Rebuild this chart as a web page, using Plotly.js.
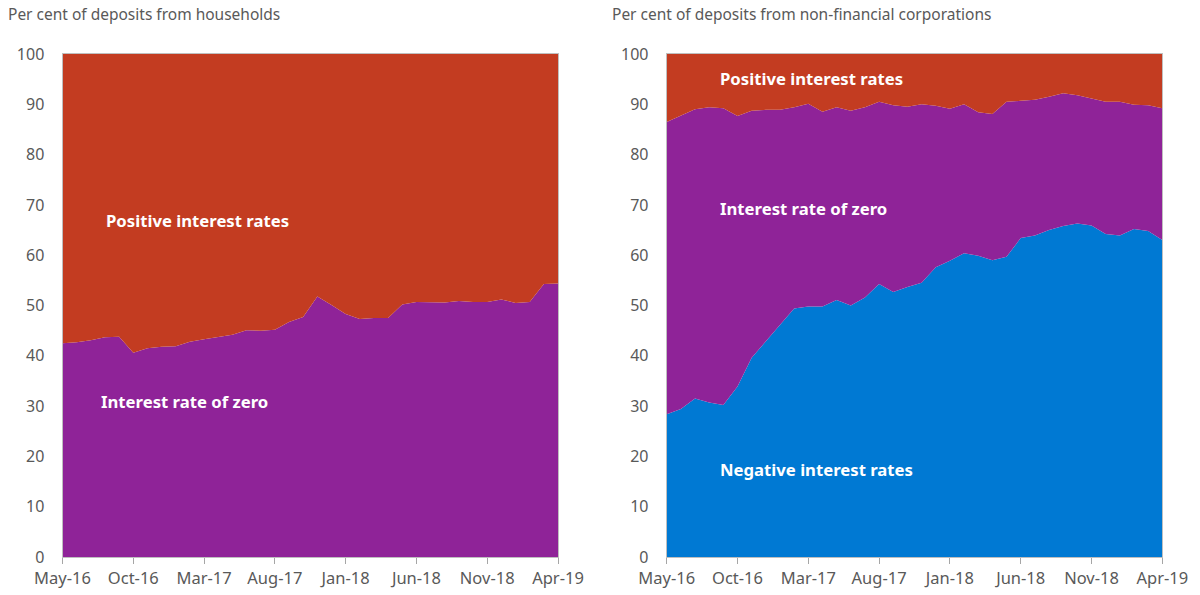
<!DOCTYPE html>
<html>
<head>
<meta charset="utf-8">
<script src="https://cdn.plot.ly/plotly-3.0.1.min.js"></script>
<style>html,body{margin:0;padding:0;background:#fff;}#chart{width:1200px;height:595px;}</style>
</head>
<body>
<div id="chart"></div>
<script>
const months = ["May-16","Jun-16","Jul-16","Aug-16","Sep-16","Oct-16","Nov-16","Dec-16","Jan-17","Feb-17","Mar-17","Apr-17",
"May-17","Jun-17","Jul-17","Aug-17","Sep-17","Oct-17","Nov-17","Dec-17","Jan-18","Feb-18","Mar-18","Apr-18",
"May-18","Jun-18","Jul-18","Aug-18","Sep-18","Oct-18","Nov-18","Dec-18","Jan-19","Feb-19","Mar-19","Apr-19"];
const tickLabels = ["May-16","Oct-16","Mar-17","Aug-17","Jan-18","Jun-18","Nov-18","Apr-19"];
const yTicks = [0,10,20,30,40,50,60,70,80,90,100];

// Households
const hhZero = [42.5,42.7,43.1,43.7,43.8,40.6,41.5,41.8,41.9,42.8,43.3,43.7,
44.2,45.1,45.0,45.2,46.7,47.7,51.8,50.1,48.3,47.3,47.5,47.5,
50.2,50.7,50.6,50.6,50.9,50.7,50.7,51.2,50.5,50.7,54.3,54.4];
const hhPositive = [57.5,57.3,56.9,56.3,56.2,59.4,58.5,58.2,58.1,57.2,56.7,56.3,
55.8,54.9,55.0,54.8,53.3,52.3,48.2,49.9,51.7,52.7,52.5,52.5,
49.8,49.3,49.4,49.4,49.1,49.3,49.3,48.8,49.5,49.3,45.7,45.6];

// Non-financial corporations
const nfcNegative = [28.4,29.4,31.5,30.7,30.2,33.9,39.6,42.8,46.0,49.4,49.8,49.8,
51.1,50.0,51.6,54.3,52.7,53.7,54.5,57.6,58.9,60.4,59.9,59.0,
59.7,63.4,63.9,65.0,65.8,66.3,65.9,64.2,63.9,65.2,64.8,63.0];
const nfcZero = [58.1,58.3,57.5,58.7,59.0,53.8,49.1,46.1,42.9,40.0,40.3,38.7,
38.3,38.7,37.8,36.2,37.1,35.8,35.5,32.1,30.2,29.6,28.5,29.1,
30.8,27.3,27.0,26.5,26.4,25.5,25.3,26.3,26.6,24.7,25.0,26.2];
const nfcPositive = [13.5,12.3,11.0,10.6,10.8,12.3,11.3,11.1,11.1,10.6,9.9,11.5,
10.6,11.3,10.6,9.5,10.2,10.5,10.0,10.3,10.9,10.0,11.6,11.9,
9.5,9.3,9.1,8.5,7.8,8.2,8.8,9.5,9.5,10.1,10.2,10.8];

const RED = '#C33C21', PURPLE = '#8F2398', BLUE = '#0079D3';
const FONT = '"Noto Sans", "Open Sans", sans-serif';

function area(y, color, xa, ya, grp) {
  return {x: months, y: y, type: 'scatter', mode: 'lines', stackgroup: grp,
    line: {width: 0, color: color}, fillcolor: color, xaxis: xa, yaxis: ya, hoverinfo: 'skip'};
}

const data = [
  area(hhZero, PURPLE, 'x', 'y', 'a'),
  area(hhPositive, RED, 'x', 'y', 'a'),
  area(nfcNegative, BLUE, 'x2', 'y2', 'b'),
  area(nfcZero, PURPLE, 'x2', 'y2', 'b'),
  area(nfcPositive, RED, 'x2', 'y2', 'b')
];

function xaxis(dom, anchor) {
  return {domain: dom, anchor: anchor, type: 'category', categoryorder: 'array', categoryarray: months,
    range: [0, 35], tickmode: 'array', tickvals: tickLabels, ticktext: tickLabels,
    ticks: 'outside', ticklen: 6, tickcolor: '#A6A6A6', showline: true, linecolor: '#BFBFBF', mirror: true,
    showgrid: false, zeroline: false, tickfont: {family: FONT, size: 16.5, color: '#595959'}, fixedrange: true};
}
function yaxis(anchor) {
  return {domain: [0.0639, 0.9092], anchor: anchor, range: [0, 100], tickvals: yTicks,
    ticks: 'outside', ticklen: 0, ticklabelstandoff: 14, showline: true, linecolor: '#BFBFBF', mirror: true,
    showgrid: false, zeroline: false, tickfont: {family: FONT, size: 16, color: '#595959'}, fixedrange: true};
}

function lbl(text, x, y) {
  return {text: '<b>' + text + '</b>', xref: 'paper', yref: 'paper', x: x, y: y, xanchor: 'left', yanchor: 'middle',
    showarrow: false, font: {family: FONT, size: 16.7, color: '#FFFFFF'}};
}
function ttl(text, x) {
  return {text: text, xref: 'paper', yref: 'paper', x: x, y: (595 - 14) / 595, xanchor: 'left', yanchor: 'middle',
    showarrow: false, font: {family: FONT, size: 15.5, color: '#595959'}};
}

const layout = {
  width: 1200, height: 595, margin: {l: 0, r: 0, t: 0, b: 0},
  paper_bgcolor: '#FFFFFF', plot_bgcolor: '#FFFFFF', showlegend: false,
  xaxis: xaxis([62.5 / 1200, 558 / 1200], 'y'),
  yaxis: yaxis('x'),
  xaxis2: xaxis([666.7 / 1200, 1162.3 / 1200], 'y2'),
  yaxis2: yaxis('x2'),
  annotations: [
    ttl('Per cent of deposits from households', 6 / 1200),
    ttl('Per cent of deposits from non-financial corporations', 610 / 1200),
    lbl('Positive interest rates', 104 / 1200, (595 - 220) / 595),
    lbl('Interest rate of zero', 99 / 1200, (595 - 401) / 595),
    lbl('Positive interest rates', 718 / 1200, (595 - 79) / 595),
    lbl('Interest rate of zero', 718 / 1200, (595 - 209) / 595),
    lbl('Negative interest rates', 718 / 1200, (595 - 469) / 595)
  ]
};

Plotly.newPlot('chart', data, layout, {displayModeBar: false, staticPlot: true});
</script>
</body>
</html>
